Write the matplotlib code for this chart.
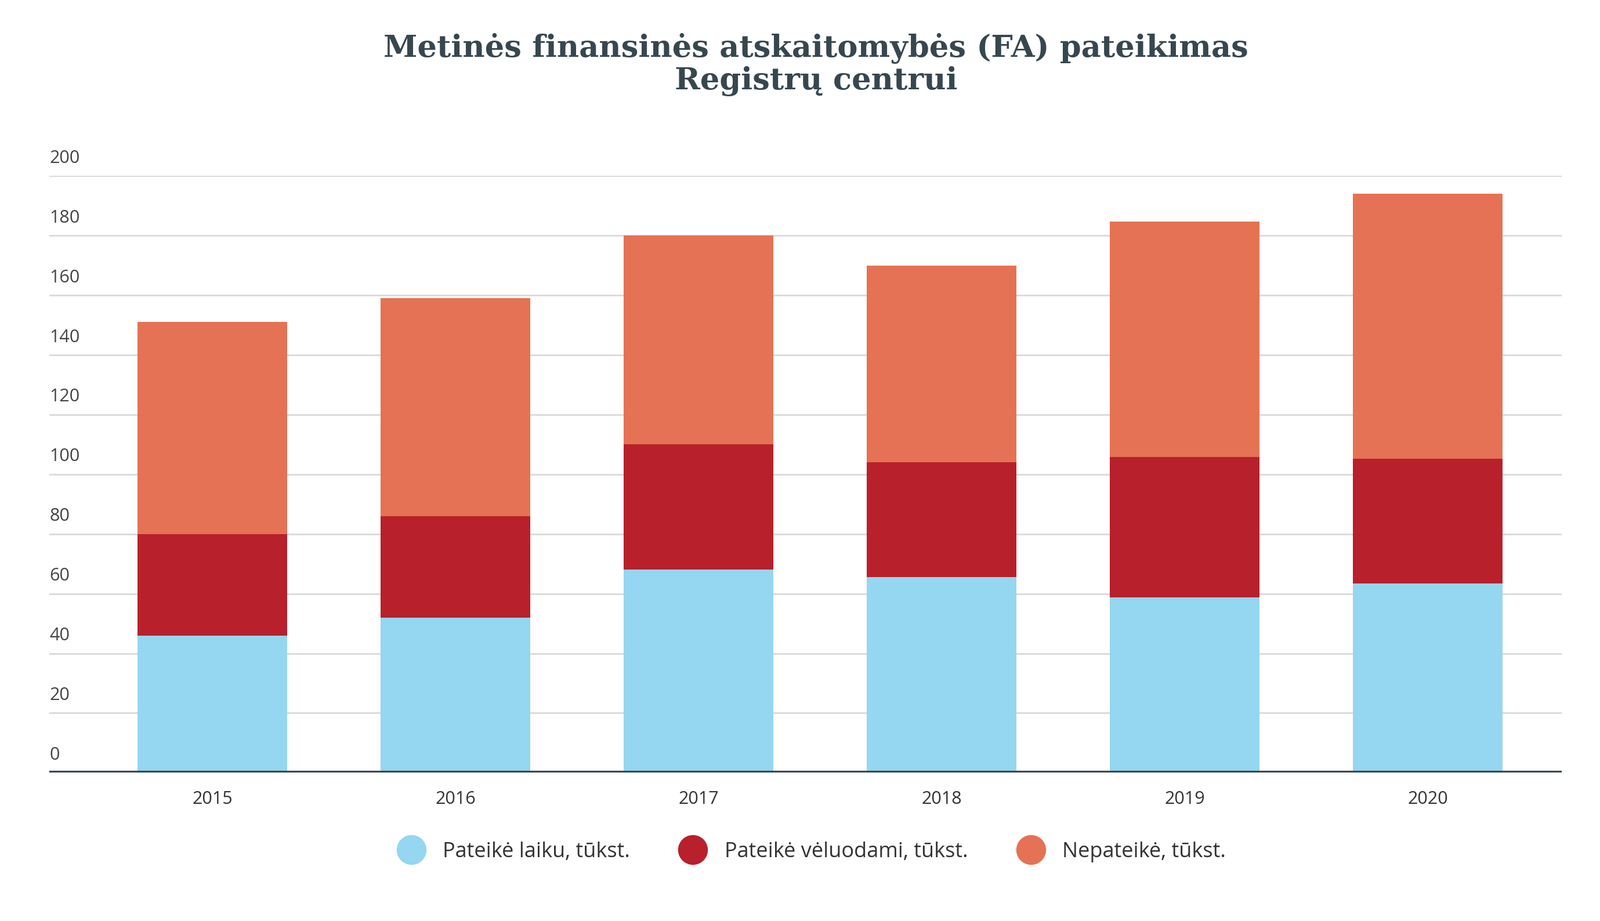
import matplotlib
matplotlib.use("Agg")
import matplotlib.pyplot as plt
from matplotlib.lines import Line2D

years = ["2015", "2016", "2017", "2018", "2019", "2020"]
on_time = [46, 52, 68, 65.5, 58.7, 63.5]
late = [34, 34, 42, 38.5, 47, 41.8]
not_submitted = [71, 73, 70, 66, 79, 88.7]
labels = ["Pateikė laiku, tūkst.", "Pateikė vėluodami, tūkst.", "Nepateikė, tūkst."]
colors = ["#95d6f0", "#b8202b", "#e57254"]
yticks = [0, 20, 40, 60, 80, 100, 120, 140, 160, 180, 200]

fig = plt.figure(figsize=(27.58, 15.88), dpi=100)
ax = fig.add_axes([0.031, 0.161, 0.945, 0.648])

x = range(len(years))
bottom2 = [a + b for a, b in zip(on_time, late)]
ax.bar(x, on_time, width=0.615, color=colors[0], zorder=3)
ax.bar(x, late, width=0.615, bottom=on_time, color=colors[1], zorder=3)
ax.bar(x, not_submitted, width=0.615, bottom=bottom2, color=colors[2], zorder=3)

ax.set_xlim(-0.67, 5.55)
ax.set_ylim(0, 200)
for t in yticks:
    ax.axhline(t, color="#d9d9d9", lw=2, zorder=1)
    ax.text(0.0, t + 3, str(t), transform=ax.get_yaxis_transform(),
            fontsize=22, color="#444444", fontfamily="Open Sans", va="bottom", ha="left")
ax.axhline(0, color="#37474f", lw=4.5, zorder=4)
for s in ax.spines.values():
    s.set_visible(False)
ax.set_yticks([])
ax.set_xticks(list(x))
ax.set_xticklabels(years, fontsize=22, color="#333333", fontfamily="Open Sans")
ax.tick_params(axis="x", length=0, pad=22)

fig.text(0.51, 0.93, "Metinės finansinės atskaitomybės (FA) pateikimas\nRegistrų centrui",
         ha="center", va="center", fontsize=38, fontweight="bold",
         fontfamily="DejaVu Serif", color="#37474f", linespacing=1.1)

handles = [Line2D([], [], marker="o", ls="", markersize=36, color=c) for c in colors]
fig.legend(handles, labels, loc="center", bbox_to_anchor=(0.505, 0.075), ncol=3, frameon=False,
           prop={"family": "Open Sans", "size": 26}, handletextpad=0.5, columnspacing=2.0,
           labelcolor="#333333")

fig.savefig("out.png", dpi=100)
